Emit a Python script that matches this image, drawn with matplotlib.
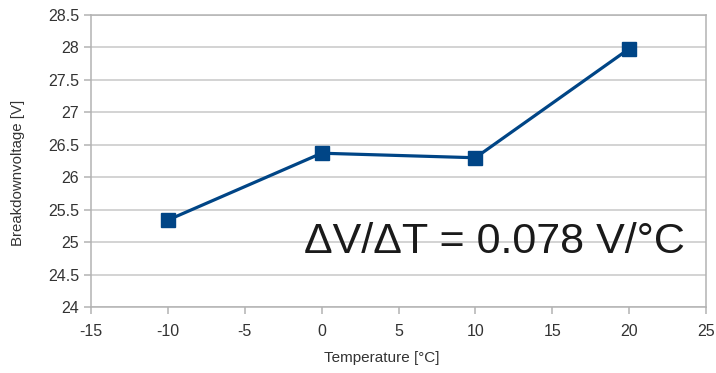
import matplotlib
matplotlib.use("Agg")
import matplotlib.pyplot as plt

plt.rcParams['font.family'] = ['Liberation Sans', 'DejaVu Sans']

temperature = [-10, 0, 10, 20]
breakdown_voltage = [25.34, 26.37, 26.30, 27.98]
x_ticks = [-15, -10, -5, 0, 5, 10, 15, 20, 25]
y_ticks = [24, 24.5, 25, 25.5, 26, 26.5, 27, 27.5, 28, 28.5]
y_tick_labels = ['24', '24.5', '25', '25.5', '26', '26.5', '27', '27.5', '28', '28.5']

fig = plt.figure(figsize=(7.16, 3.73), dpi=100)
ax = fig.add_axes([91/716, 1-307/373, (706-91)/716, (307-15)/373])

ax.plot(temperature, breakdown_voltage, color='#004586', linewidth=2.3,
        marker='s', markersize=9.5, zorder=3)

ax.set_xlim(-15, 25)
ax.set_ylim(24, 28.5)
ax.set_xticks(x_ticks)
ax.set_xticklabels([str(t) for t in x_ticks])
ax.set_yticks(y_ticks)
ax.set_yticklabels(y_tick_labels)

ax.grid(axis='y', color='#c8c8c8', linewidth=1.1)
ax.set_axisbelow(True)
for s in ax.spines.values():
    s.set_color('#b3b3b3')
    s.set_linewidth(1.1)
ax.tick_params(axis='both', colors='#b3b3b3', labelcolor='#333333',
               labelsize=11.5, length=5, width=1.1, direction='out')
ax.tick_params(axis='x', pad=7)

ax.set_xlabel('Temperature [°C]', fontsize=11, color='#333333')
ax.set_ylabel('Breakdownvoltage [V]', fontsize=10.8, color='#333333')
ax.xaxis.set_label_coords(0.472, -0.152)
ax.yaxis.set_label_coords(-0.107, 0.459)

ax.text(0.347, 0.185, 'ΔV/ΔT = 0.078 V/°C', transform=ax.transAxes,
        fontsize=31, color='#1a1a1a', va='baseline', ha='left')

fig.savefig('out.png', dpi=100)
